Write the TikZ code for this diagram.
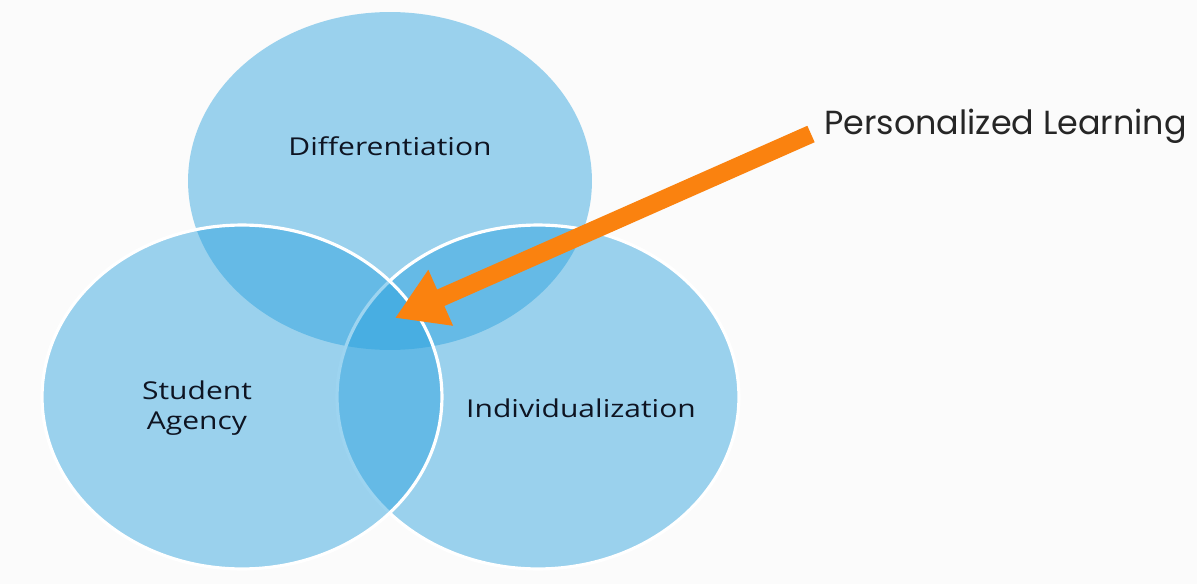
\documentclass[tikz,border=0pt]{standalone}
\usepackage{fontspec}
\usetikzlibrary{arrows.meta}
\newfontfamily\vennfont{Open Sans}
\newfontfamily\callfont{Poppins}
\definecolor{vennblue}{RGB}{38,160,222}
\definecolor{callorange}{RGB}{250,130,15}
\definecolor{inktext}{RGB}{14,20,34}
\definecolor{paper}{RGB}{251,251,251}

\begin{document}
\begin{tikzpicture}[x=0.02cm, y=-0.02cm,
    venn/.style={fill=vennblue, fill opacity=.45},
    rim/.style={draw=white, line width=1.8pt},
    setlabel/.style={font=\vennfont\fontsize{14}{17}\selectfont, text=inktext, align=center, xscale=1.22},
    callout/.style={draw=callorange, line width=0.36cm, -{Triangle[width=1.15cm, length=1.0cm]}}]
                \fill [paper] (0,0) rectangle (1197,584);
                \useasboundingbox (0,0) rectangle (1197,584);
                % the three sets
                \path [venn] (390,181) ellipse [x radius=4.04cm, y radius=3.38cm];
                \path [venn, rim] (538,397) ellipse [x radius=4.02cm, y radius=3.44cm];
                \path [venn, rim] (242,397) ellipse [x radius=4.0cm, y radius=3.44cm];
                \node [setlabel] (diff) at (390,146) {Differentiation};
                \node [setlabel] (agency) at (197,408) {Student\\Agency};
                \node [setlabel] (indiv) at (581,408) {Individualization};
                % pointer to the middle
                \node [anchor=west, font=\callfont\fontsize{19}{23}\selectfont, text=black!85] (pl) at (818,126) {Personalized Learning};
                \coordinate (tail) at (811,134);
                \coordinate (tip) at (395,318);
                \draw [callout] (tail) -- (tip);
            \end{tikzpicture}
\end{document}
